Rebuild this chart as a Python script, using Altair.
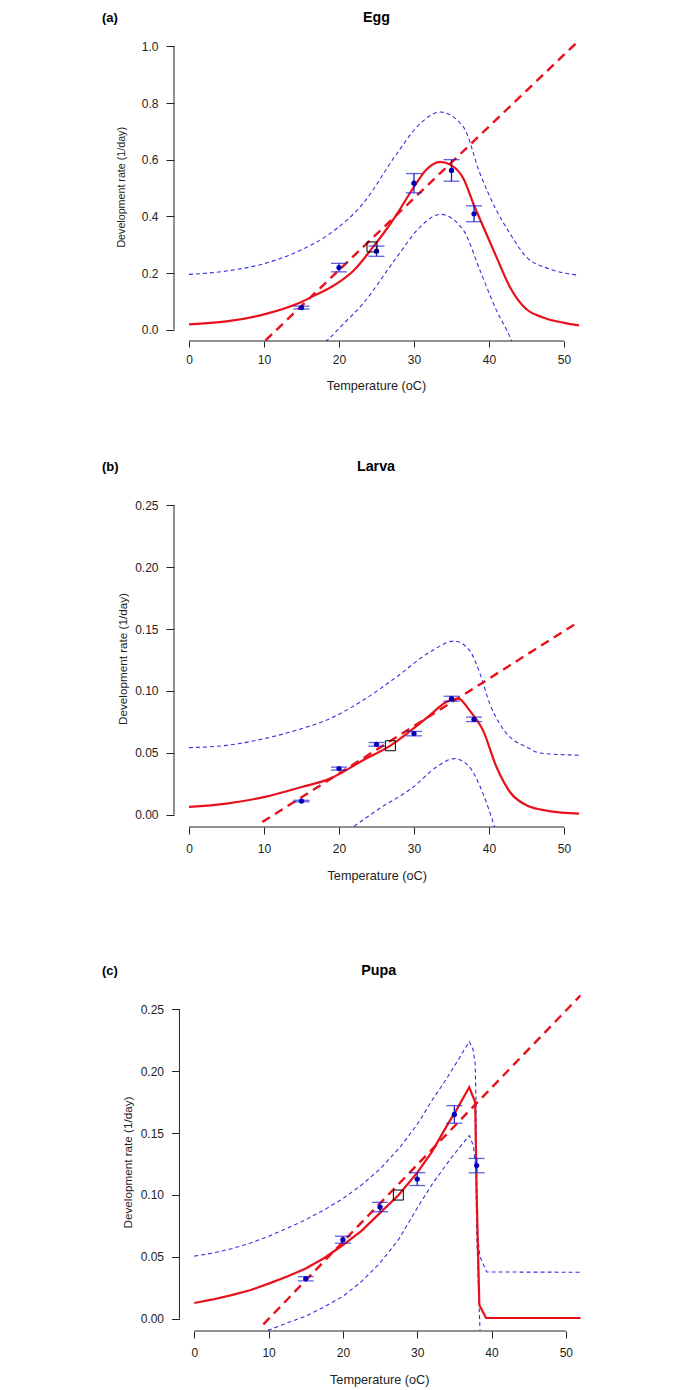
import altair as alt
import pandas as pd

FONT = "Liberation Sans"
RED = "#e8101a"
BAND = "#3232e0"
ERRC = "#1e1ed2"
PTC = "#0000b8"
AXC = "#222222"

x_ticks = [0, 10, 20, 30, 40, 50]

# ---------------- (a) Egg ----------------
a_obs_T = [15, 20, 25, 30, 35, 38]
a_obs_v = [0.078, 0.219, 0.277, 0.517, 0.562, 0.409]
a_obs_e = [0.005, 0.015, 0.018, 0.034, 0.038, 0.028]
a_fit_T = [0, 5, 10, 15, 17, 18.8, 20, 22, 24.4, 26, 27.7, 29.9, 31.7, 33.5, 35.0, 36.6, 38.0, 38.8, 41.0, 42.8, 45, 47, 50, 52]
a_fit_v = [0.019, 0.029, 0.054, 0.098, 0.124, 0.148, 0.168, 0.210, 0.287, 0.342, 0.407, 0.500, 0.566, 0.592, 0.580, 0.533, 0.439, 0.390, 0.256, 0.150, 0.072, 0.045, 0.024, 0.015]
a_up_T = [0, 5, 10, 15, 18.8, 23.2, 27.7, 30.8, 33.5, 36.6, 38.8, 41.0, 42.8, 45, 48, 52]
a_up_v = [0.195, 0.207, 0.233, 0.282, 0.339, 0.445, 0.621, 0.727, 0.768, 0.715, 0.551, 0.421, 0.339, 0.256, 0.215, 0.192]
a_lo_T = [18.2, 18.8, 20.5, 23.2, 27.7, 30.8, 33.5, 36.6, 38.8, 41.0, 42.8, 43.1]
a_lo_v = [-0.043, -0.028, 0.018, 0.092, 0.256, 0.362, 0.407, 0.350, 0.209, 0.068, -0.026, -0.045]
a_lin_T = [10.2, 52]
a_lin_v = [-0.038, 1.021]
a_opt_T = [24.4]
a_opt_v = [0.292]
a_y_ticks = [0, 0.2, 0.4, 0.6, 0.8, 1.0]

# ---------------- (b) Larva ----------------
b_obs_T = [15, 20, 25, 30, 35, 38]
b_obs_v = [0.011, 0.0372, 0.0568, 0.0655, 0.0937, 0.077]
b_obs_e = [0.0006, 0.0012, 0.0015, 0.0018, 0.0020, 0.0018]
b_fit_T = [0, 5, 10, 15, 18.8, 23.2, 26.85, 29.9, 32.1, 34.3, 35.9, 37.4, 39.2, 41.0, 42.8, 45, 48, 52]
b_fit_v = [0.0062, 0.0089, 0.0142, 0.0223, 0.0291, 0.0439, 0.0558, 0.0695, 0.0803, 0.0910, 0.0938, 0.0843, 0.0681, 0.0385, 0.0183, 0.0075, 0.0029, 0.0008]
b_up_T = [0, 5, 10, 15, 18.8, 23.2, 27.65, 32.1, 35.4, 37.4, 38.8, 40.1, 41.4, 42.8, 45, 46.8, 52]
b_up_v = [0.0542, 0.0560, 0.0614, 0.0695, 0.0776, 0.0924, 0.1112, 0.1314, 0.1403, 0.1328, 0.1140, 0.0897, 0.0736, 0.0627, 0.0547, 0.0498, 0.0480]
b_lo_T = [22.0, 25.4, 29.9, 33.0, 35.4, 37.4, 39.2, 40.8]
b_lo_v = [-0.0095, 0.0049, 0.0223, 0.0385, 0.0453, 0.0385, 0.0170, -0.0110]
b_lin_T = [9.77, 52]
b_lin_v = [-0.006, 0.156]
b_opt_T = [26.85]
b_opt_v = [0.0557]
b_y_ticks = [0, 0.05, 0.10, 0.15, 0.20, 0.25]

# ---------------- (c) Pupa ----------------
c_obs_T = [15, 20, 25, 30, 35, 38]
c_obs_v = [0.0323, 0.0638, 0.0902, 0.1128, 0.1651, 0.1237]
c_obs_e = [0.0017, 0.0028, 0.0038, 0.0052, 0.0071, 0.0058]
c_fit_T = [0, 2.5, 5, 7.5, 10, 12.5, 15, 17.5, 20, 22.5, 25, 27.5, 30, 32, 34, 35.5, 37.0, 37.8, 38.0, 38.36, 39.26, 52]
c_fit_v = [0.0126, 0.0155, 0.019, 0.0229, 0.0283, 0.0340, 0.0405, 0.049, 0.0595, 0.071, 0.0855, 0.100, 0.118, 0.135, 0.156, 0.171, 0.187, 0.175, 0.100, 0.011, 0.0005, 0.0005]
c_up_T = [0, 2.5, 5, 7.5, 10, 12.5, 15, 17.5, 20, 22.5, 25, 27.7, 30, 32, 34, 35.5, 37.0, 37.5, 37.8, 37.9, 38.0, 38.14, 38.45, 39.35, 52]
c_up_v = [0.0505, 0.053, 0.0565, 0.061, 0.0665, 0.073, 0.080, 0.088, 0.097, 0.108, 0.121, 0.1387, 0.157, 0.1765, 0.1945, 0.209, 0.224, 0.218, 0.206, 0.179, 0.112, 0.066, 0.050, 0.0377, 0.0375]
c_lo_T = [9.9, 12.5, 15, 17.5, 20, 22.5, 25, 27.5, 30, 32, 34, 35.5, 37.0, 37.55, 37.9, 38.0, 38.2, 38.45]
c_lo_v = [-0.0095, -0.0035, 0.002, 0.0095, 0.018, 0.030, 0.045, 0.064, 0.0895, 0.1085, 0.1253, 0.137, 0.148, 0.140, 0.120, 0.0714, 0.031, -0.0095]
c_lin_T = [9.29, 52]
c_lin_v = [-0.0046, 0.2614]
c_opt_T = [27.46]
c_opt_v = [0.0999]
c_y_ticks = [0, 0.05, 0.10, 0.15, 0.20, 0.25]


def panel(label, name, fit_T, fit_v, up_T, up_v, lo_T, lo_v, lin_T, lin_v,
          obs_T, obs_v, obs_e, opt_T, opt_v, y_ticks, y_fmt,
          xdom, ydom, W, H, interp, ax_off, lay):
    xs = alt.Scale(domain=xdom, nice=False, zero=False)
    ys = alt.Scale(domain=ydom, nice=False, zero=False)
    xax = alt.Axis(values=x_ticks, title=None, grid=False, domain=False,
                   tickSize=lay["xts"], tickColor=AXC, tickWidth=1,
                   labelFont=FONT, labelFontSize=12, labelColor="#222222",
                   labelPadding=lay["xlp"], labelFlush=False, labelOverlap=False)
    yax = alt.Axis(values=y_ticks, format=y_fmt, title=None, grid=False, domain=False,
                   tickSize=8, tickColor=AXC, tickWidth=1, offset=ax_off,
                   labelFont=FONT, labelFontSize=12, labelColor="#222222",
                   labelPadding=8, labelFlush=False, labelOverlap=False)

    def X(f):
        return alt.X(f, type="quantitative", scale=xs, axis=xax)

    def Y(f):
        return alt.Y(f, type="quantitative", scale=ys, axis=yax)

    fit = pd.DataFrame({"T": fit_T, "v": fit_v})
    band = pd.concat([
        pd.DataFrame({"T": up_T, "v": up_v, "part": "upper"}),
        pd.DataFrame({"T": lo_T, "v": lo_v, "part": "lower"}),
    ])
    lin = pd.DataFrame({"T": lin_T, "v": lin_v})
    obs = pd.DataFrame({"T": obs_T, "v": obs_v,
                        "lo": [v - e for v, e in zip(obs_v, obs_e)],
                        "hi": [v + e for v, e in zip(obs_v, obs_e)]})
    opt = pd.DataFrame({"T": opt_T, "v": opt_v})
    yline = pd.DataFrame({"T": [xdom[0] if ax_off == 0 else -2], "v": [y_ticks[0]], "v2": [y_ticks[-1]]})
    xline = pd.DataFrame({"T": [x_ticks[0]], "T2": [x_ticks[-1]], "v": [ydom[0]]})

    layers = [
        alt.Chart(band).mark_line(color=BAND, strokeWidth=1.1, strokeDash=[4, 3],
                                  clip=True, interpolate=interp)
        .encode(x=X("T"), y=Y("v"), detail="part:N"),
        alt.Chart(lin).mark_line(color=RED, strokeWidth=2.4, strokeDash=[9, 6], clip=True)
        .encode(x=X("T"), y=Y("v")),
        alt.Chart(fit).mark_line(color=RED, strokeWidth=2.2, clip=True, interpolate=interp)
        .encode(x=X("T"), y=Y("v")),
        alt.Chart(obs).mark_rule(color=ERRC, strokeWidth=1.3)
        .encode(x=X("T"), y=Y("lo"), y2="hi"),
        alt.Chart(obs).mark_tick(orient="horizontal", size=16, thickness=1.3, color=ERRC)
        .encode(x=X("T"), y=Y("hi")),
        alt.Chart(obs).mark_tick(orient="horizontal", size=16, thickness=1.3, color=ERRC)
        .encode(x=X("T"), y=Y("lo")),
        alt.Chart(obs).mark_circle(size=28, color=PTC, opacity=1)
        .encode(x=X("T"), y=Y("v")),
        alt.Chart(opt).mark_point(shape="square", filled=False, size=100,
                                  color="black", strokeWidth=1, opacity=1)
        .encode(x=X("T"), y=Y("v")),
        alt.Chart(yline).mark_rule(color=AXC, strokeWidth=1)
        .encode(x=X("T"), y=Y("v"), y2="v2"),
        alt.Chart(xline).mark_rule(color=AXC, strokeWidth=1)
        .encode(x=X("T"), x2="T2", y=Y("v")),
        alt.Chart(pd.DataFrame({"t": [label]})).mark_text(
            align="left", baseline="alphabetic", font=FONT, fontSize=13,
            fontWeight="bold", color="black")
        .encode(text="t:N", x=alt.value(-72), y=alt.value(lay["hy"])),
        alt.Chart(pd.DataFrame({"t": [name]})).mark_text(
            align="center", baseline="alphabetic", font=FONT, fontSize=14.3,
            fontWeight="bold", color="black")
        .encode(text="t:N", x=alt.value(lay["nx"]), y=alt.value(lay["hy"])),
        alt.Chart(pd.DataFrame({"t": ["Development rate (1/day)"]})).mark_text(
            align="center", baseline="middle", angle=270, font=FONT,
            fontSize=lay["yfs"], color="#222222")
        .encode(text="t:N", x=alt.value(lay["ytx"]), y=alt.value(lay["yty"])),
        alt.Chart(pd.DataFrame({"t": ["Temperature (oC)"]})).mark_text(
            align="center", baseline="middle", font=FONT,
            fontSize=12.7, color="#222222")
        .encode(text="t:N", x=alt.value(lay["xtx"]), y=alt.value(lay["xty"])),
    ]
    return alt.layer(*layers).properties(width=W, height=H)


pa = panel("(a)", "Egg", a_fit_T, a_fit_v, a_up_T, a_up_v, a_lo_T, a_lo_v,
           a_lin_T, a_lin_v, a_obs_T, a_obs_v, a_obs_e, a_opt_T, a_opt_v,
           a_y_ticks, ".1f", [-2, 52], [-0.04, 1.04], 405, 306, "monotone", 0,
           dict(xts=6, xlp=7.8, hy=-13, nx=202.5, yfs=10.7, ytx=-51.7, yty=152.3,
                xtx=202.5, xty=351))
pb = panel("(b)", "Larva", b_fit_T, b_fit_v, b_up_T, b_up_v, b_lo_T, b_lo_v,
           b_lin_T, b_lin_v, b_obs_T, b_obs_v, b_obs_e, b_opt_T, b_opt_v,
           b_y_ticks, ".2f", [-2, 52], [-0.01, 0.26], 405, 334, "monotone", 0,
           dict(xts=7, xlp=9.4, hy=-22, nx=202, yfs=11.7, ytx=-50.7, yty=166,
                xtx=203.2, xty=383))
pc = panel("(c)", "Pupa", c_fit_T, c_fit_v, c_up_T, c_up_v, c_lo_T, c_lo_v,
           c_lin_T, c_lin_v, c_obs_T, c_obs_v, c_obs_e, c_opt_T, c_opt_v,
           c_y_ticks, ".2f", [-2.732, 52], [-0.01, 0.27455], 406.7, 352, "linear", -5.5,
           dict(xts=7, xlp=9.4, hy=-4.5, nx=204.7, yfs=11.7, ytx=-45.7, yty=183.5,
                xtx=205.7, xty=401))

chart = alt.vconcat(pa, pb, pc, spacing=152, bounds="flush").properties(
    padding={"left": 94, "top": 3, "right": 5, "bottom": 0}
).configure(font=FONT).configure_view(strokeWidth=0, stroke="transparent")

chart.save("out.html", embed_options={"renderer": "svg", "actions": False})
